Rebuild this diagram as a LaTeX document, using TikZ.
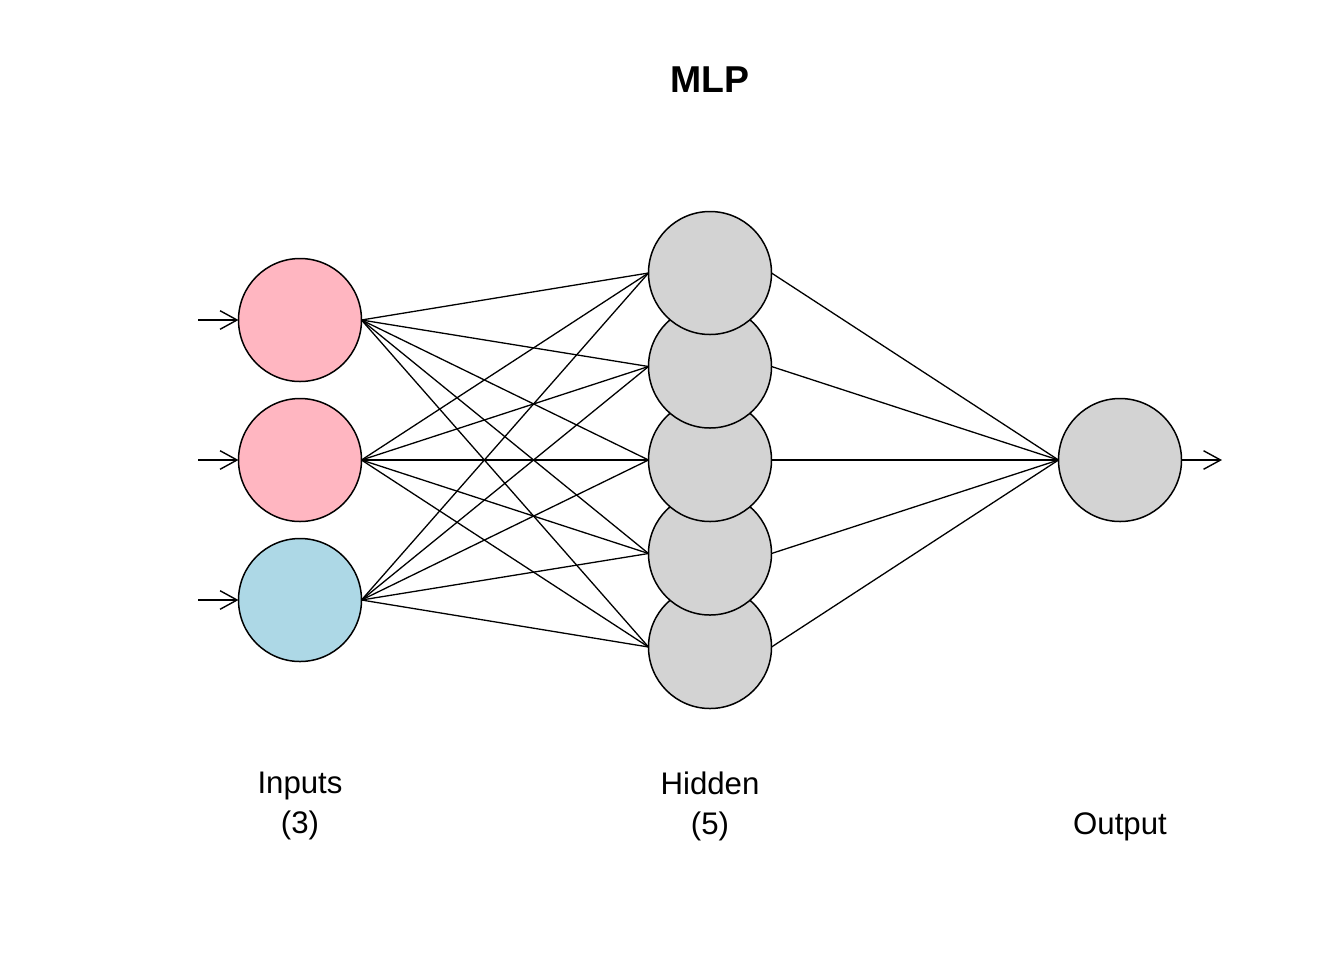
\documentclass[tikz,border=0pt]{standalone}
\usepackage{fontspec}
\setmainfont{Liberation Sans}
\usetikzlibrary{arrows.meta,backgrounds}
\definecolor{pinkfill}{HTML}{FFB6C1}
\definecolor{bluefill}{HTML}{ADD8E6}
\definecolor{grayfill}{HTML}{D3D3D3}
\tikzset{
  neuron/.style={circle,draw=black,line width=0.75pt,minimum size=61.5pt,inner sep=0pt,outer sep=0pt},
  edge/.style={draw=black,line width=0.65pt},
  inarrow/.style={draw=black,line width=0.7pt,-{Straight Barb[length=8.5pt,width=9.3pt,line width=0.7pt]}},
  lbl/.style={font=\fontsize{15.6}{20}\selectfont,align=center,inner sep=0pt}
}
\begin{document}
\begin{tikzpicture}[x=0.5pt,y=-0.5pt]
\useasboundingbox (0,0) rectangle (1344,960);
% input nodes
\node[neuron,fill=pinkfill] (i1) at (300,320) {};
\node[neuron,fill=pinkfill] (i2) at (300,460) {};
\node[neuron,fill=bluefill] (i3) at (300,600) {};
% hidden nodes (bottom first so upper ones overlap)
\node[neuron,fill=grayfill] (h5) at (710,647) {};
\node[neuron,fill=grayfill] (h4) at (710,553.5) {};
\node[neuron,fill=grayfill] (h3) at (710,460) {};
\node[neuron,fill=grayfill] (h2) at (710,366.5) {};
\node[neuron,fill=grayfill] (h1) at (710,273) {};
% output node
\node[neuron,fill=grayfill] (o) at (1120,460) {};
% edges
\begin{scope}[on background layer]
\fill[white] (0,0) rectangle (1344,960);
\foreach \i in {1,2,3}{
  \foreach \h in {1,2,3,4,5}{
    \draw[edge] (i\i.east) -- (h\h.west);
  }
}
\foreach \h in {1,2,3,4,5}{
  \draw[edge] (h\h.east) -- (o.west);
}
\end{scope}
% input / output arrows
\coordinate (a1) at (198,320);
\coordinate (a2) at (198,460);
\coordinate (a3) at (198,600);
\coordinate (aout) at (1222,460);
\draw[inarrow] (a1) -- (i1.west);
\draw[inarrow] (a2) -- (i2.west);
\draw[inarrow] (a3) -- (i3.west);
\draw[inarrow] (o.east) -- (aout);
% labels
\node[font=\bfseries\fontsize{18.7}{22}\selectfont,inner sep=0pt] (title) at (710,80) {MLP};
\node[lbl] (linputs) at (300,806) {Inputs\\(3)};
\node[lbl] (lhidden) at (710,806) {Hidden\\(5)};
\node[lbl] (loutput) at (1120,827) {Output};
\end{tikzpicture}
\end{document}
